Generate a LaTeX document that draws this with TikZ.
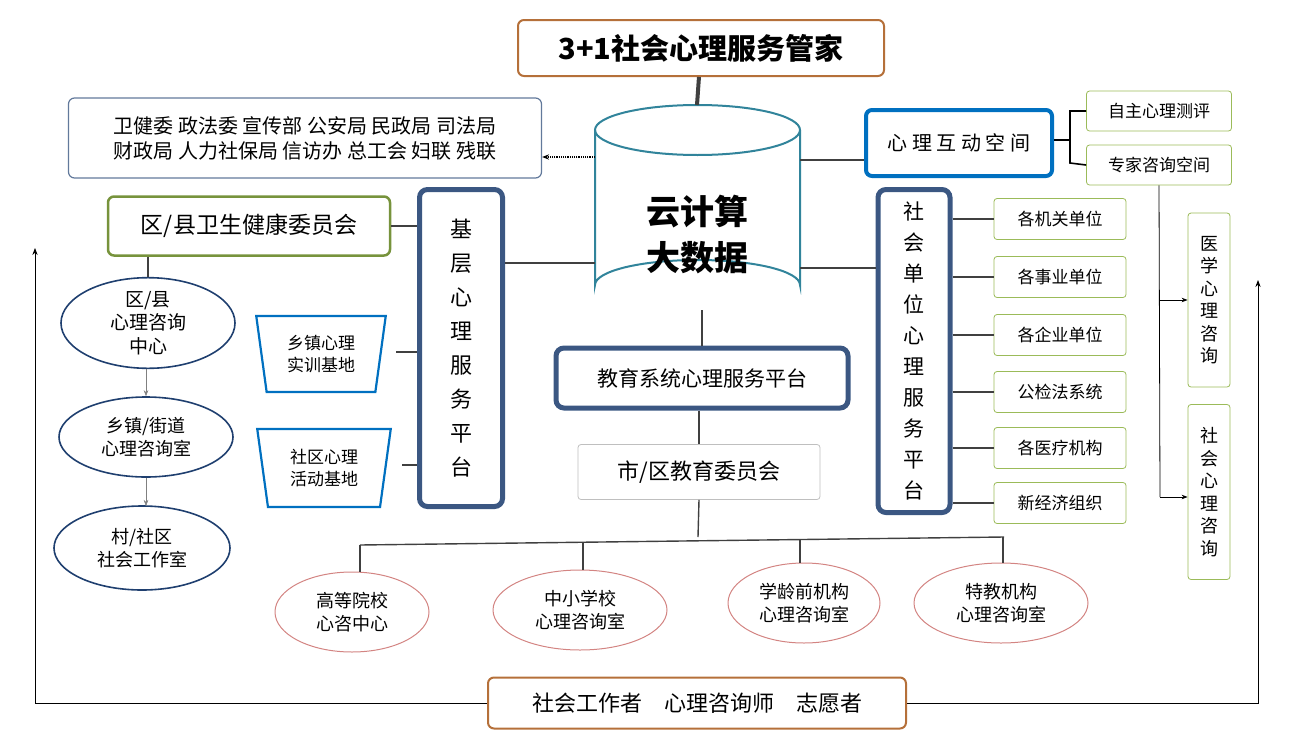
\documentclass[tikz,border=0pt]{standalone}
\usepackage{fontspec}
\setmainfont{Noto Sans CJK SC}
\usetikzlibrary{positioning,shapes.geometric,arrows.meta}
\definecolor{brownb}{HTML}{B5703A}
\definecolor{tealb}{HTML}{31849B}
\definecolor{navyb}{HTML}{3B5782}
\definecolor{blueb}{HTML}{0070C0}
\definecolor{greenb}{HTML}{9BBB59}
\definecolor{oliveb}{HTML}{77933C}
\definecolor{redb}{HTML}{C0504D}
\definecolor{ellb}{HTML}{1F3F6F}
\definecolor{lineg}{HTML}{404040}
\tikzset{
  fs/.style={font=\fontsize{#1pt}{1.25\dimexpr #1pt\relax}\selectfont},
  box/.style={draw, rounded corners=6pt, inner sep=0pt, align=center},
  brownbox/.style={box, draw=brownb, line width=2pt},
  platform/.style={box, draw=navyb, line width=5pt, rounded corners=8pt},
  vtext/.style={font=\fontsize{21pt}{31pt}\selectfont},
  greenbox/.style={draw=greenb, line width=0.8pt, rounded corners=3pt, inner sep=0pt, align=center, fs=17},
  unitbox/.style={greenbox},
  trap/.style={draw=blueb, line width=2.2pt, trapezium, trapezium stretches=true, align=center, fs=17, inner sep=0pt},
  blueell/.style={draw=ellb, line width=1.6pt, ellipse, align=center, fs=18, inner sep=0pt},
  redell/.style={draw=redb!70, line width=1pt, ellipse, align=center, fs=18, inner sep=0pt},
  conn/.style={draw=lineg, line width=2.2pt},
  thin/.style={draw=black, line width=0.8pt}
}
\begin{document}
\begin{tikzpicture}[x=1pt,y=-1pt]
	\useasboundingbox (0,0) rectangle (1293,747);
	
	% top
	\node (title) at (701,48) [brownbox, minimum width=366pt, minimum height=56pt, font=\bfseries\fontsize{29pt}{34pt}\selectfont] {3+1社会心理服务管家};
	
	% cloud cylinder
	\draw [draw=tealb, line width=2pt, fill=white]
	      (595,130) -- (595,285) arc[start angle=180, end angle=360, x radius=102.5, y radius=25]
	      -- (800,130);
	\draw [draw=tealb, line width=2pt] (697.5,130) ellipse [x radius=102.5, y radius=25];
	\node (cloud) at (697,235) [align=center, font=\bfseries\fontsize{34pt}{46pt}\selectfont] {云计算\\大数据};
	\coordinate (cylT) at (697,105);
	\coordinate (cylB) at (702,310);
	\draw [conn, line width=4pt] (title) -- (cylT);
	
	% ministries
	\node (gov) at (305,138) [box, draw=navyb!80, line width=1.2pt, minimum width=473pt, minimum height=80pt, fs=20] {卫健委 政法委 宣传部 公安局 民政局 司法局\\财政局 人力社保局 信访办 总工会 妇联 残联};
	\draw [-{Stealth[length=7pt]}, densely dotted, line width=1.2pt] (595,157) -- (gov.east |- 0,157);
	
	% interactive space
	\node (hud) at (959,143) [box, draw=blueb, line width=4pt, minimum width=186pt, minimum height=66pt, fs=20] {心 理 互 动 空 间};
	\draw [conn] (800,160) -- (hud.west |- 0,160);
	\node (ceping) at (1159,111) [greenbox, minimum width=145pt, minimum height=40pt] {自主心理测评};
	\node (zhuanjia) at (1159,165) [greenbox, minimum width=145pt, minimum height=40pt] {专家咨询空间};
	\draw [thin, line width=1.6pt] (hud.east |- 0,140) -- (1070,140);
	\draw [thin, line width=1.6pt] (ceping.west) -| (1070,163) -- (zhuanjia.west);
	\node (yixue) at (1209,300) [greenbox, minimum width=42pt, minimum height=174pt, fs=18] {医\\学\\心\\理\\咨\\询};
	\node (shehui) at (1209,492) [greenbox, minimum width=42pt, minimum height=175pt, fs=18] {社\\会\\心\\理\\咨\\询};
	\draw [thin] (zhuanjia.south) -- (1160,497);
	\draw [thin, -{Stealth[length=6pt]}] (1160,300) -- (yixue.west);
	\draw [thin, -{Stealth[length=6pt]}] (1160,497) -- (shehui.west |- 0,497);
	
	% social units platform
	\node (shdw) at (914,351) [platform, minimum width=72pt, minimum height=323pt, vtext] {社\\会\\单\\位\\心\\理\\服\\务\\平\\台};
	\draw [conn] (800,268) -- (shdw.west |- 0,268);
	\foreach \name/\txt/\yy in {jg/各机关单位/219, sy/各事业单位/277, qy/各企业单位/335, gjf/公检法系统/392, yl/各医疗机构/448, xjj/新经济组织/503}{
		\node (\name) at (1060,\yy) [unitbox, minimum width=132pt, minimum height=41pt] {\txt};
		\draw [conn, line width=1.6pt] (shdw.east |- \name.west) -- (\name.west);
	}
	
	% grassroots platform
	\node (jc) at (461,348) [platform, minimum width=83pt, minimum height=317pt, font=\fontsize{22pt}{34pt}\selectfont] {基\\层\\心\\理\\服\\务\\平\\台};
	\draw [conn] (jc.east |- 0,263) -- (595,263);
	\node (wjw) at (249,226) [box, draw=oliveb, line width=2.5pt, minimum width=282pt, minimum height=59pt, fs=23] {区/县卫生健康委员会};
	\draw [conn, line width=1.6pt] (wjw.east) -- (jc.west |- wjw.east);
	\node (sxjd) at (321,354) [trap, minimum width=130pt, minimum height=76pt, trapezium left angle=100, trapezium right angle=100] {乡镇心理\\实训基地};
	\draw [conn, line width=1.6pt] (396,352) -- (jc.west |- 0,352);
	\node (hdjd) at (324,468) [trap, minimum width=134pt, minimum height=78pt, trapezium left angle=100, trapezium right angle=100] {社区心理\\活动基地};
	\draw [conn, line width=1.6pt] (402,465) -- (jc.west |- 0,465);
	
	% county chain
	\node (zx) at (148,323) [blueell, minimum width=174pt, minimum height=86pt, fs=19] {区/县\\心理咨询\\中心};
	\node (zxs) at (146,437) [blueell, minimum width=174pt, minimum height=80pt] {乡镇/街道\\心理咨询室};
	\node (gzs) at (142,548) [blueell, minimum width=176pt, minimum height=84pt] {村/社区\\社会工作室};
	\draw [conn, line width=1.6pt] (wjw.south -| zx.north) -- (zx.north);
	\draw [draw=gray, -{Stealth[length=6pt]}] (zx.south -| 146,0) -- (zxs.north);
	\draw [draw=gray, -{Stealth[length=6pt]}] (zxs.south) -- (146,506);
	
	% education
	\node (jy) at (702,378) [platform, minimum width=292pt, minimum height=60pt, fs=21] {教育系统心理服务平台};
	\draw [conn] (cylB) -- (jy.north -| cylB);
	\node (jw) at (699,472) [draw=gray!50, line width=0.8pt, rounded corners=3pt, minimum width=242pt, minimum height=55pt, fs=22] {市/区教育委员会};
	\draw [conn, line width=1.6pt] (jy.south -| jw.north) -- (jw.north);
	\draw [conn, line width=1.4pt] (jw.south) -- (698,537);
	\draw [conn, line width=1.4pt] (360,545) -- (1004,537);
	\node (gx) at (352,612) [redell, minimum width=154pt, minimum height=80pt] {高等院校\\心咨中心};
	\node (zxx) at (580,610) [redell, minimum width=174pt, minimum height=80pt] {中小学校\\心理咨询室};
	\node (xlq) at (804,603) [redell, minimum width=152pt, minimum height=80pt] {学龄前机构\\心理咨询室};
	\node (tj) at (1001,603) [redell, minimum width=174pt, minimum height=80pt] {特教机构\\心理咨询室};
	\draw [conn, line width=1.4pt] (360,545) -- (360,572);
	\draw [conn, line width=1.4pt] (583,542) -- (583,570);
	\draw [conn, line width=1.4pt] (800,540) -- (800,563);
	\draw [conn, line width=1.4pt] (1003,537) -- (1003,563);
	
	% bottom
	\node (sg) at (697,703) [brownbox, minimum width=418pt, minimum height=51pt, fs=22] {社会工作者\quad 心理咨询师\quad 志愿者};
	\draw [thin, -{Stealth[length=7pt]}] (sg.west) -| (35,248);
	\draw [thin, -{Stealth[length=7pt]}] (sg.east) -| (1258,280);
\end{tikzpicture}
\end{document}
